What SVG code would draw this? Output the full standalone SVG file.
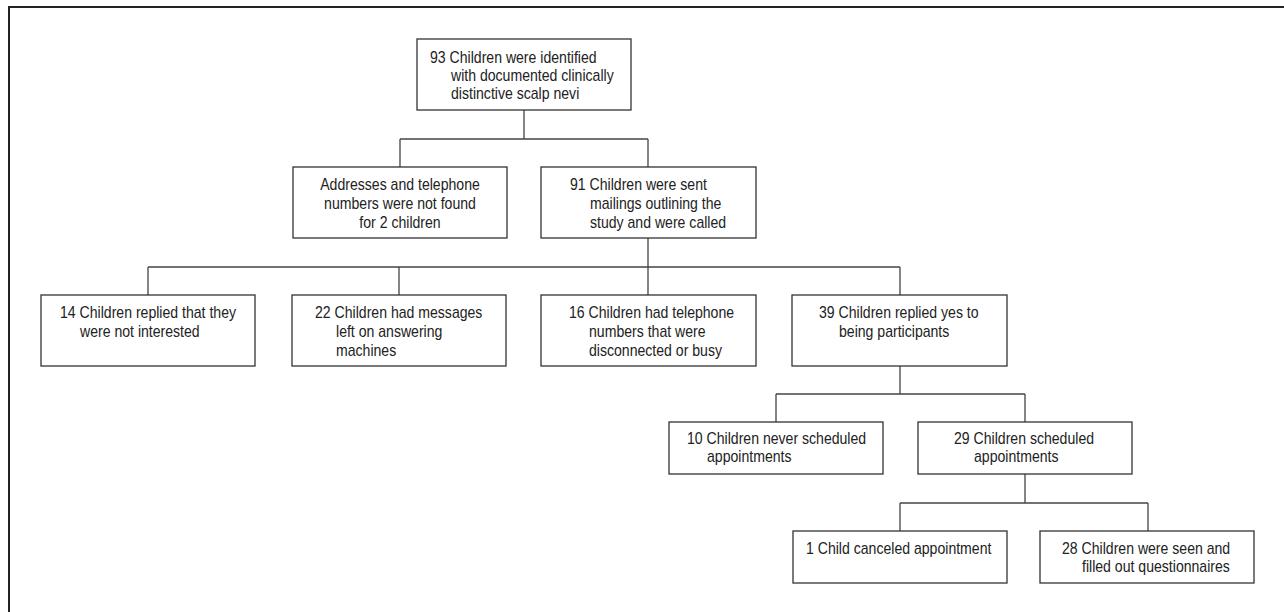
<svg xmlns="http://www.w3.org/2000/svg" width="1284" height="612" viewBox="0 0 1284 612">
<style>
.box{fill:#fff;stroke:#333;stroke-width:1.3}
.frame{fill:#fff;stroke:#222;stroke-width:2}
.conn{fill:none;stroke:#444;stroke-width:1.3}
text{font-family:"Liberation Sans",Arial,sans-serif;font-size:16px;fill:#222}
.mid{text-anchor:middle}
</style>
<rect class="frame" x="9" y="7" width="1290" height="620"/>
<g id="connectors">
<path class="conn" d="M524 110V139M400 139H648M400 139V167M648 139V167"/>
<path class="conn" d="M648 238V267M148 267H900M148 267V295M399 267V295M648 267V295M900 267V295"/>
<path class="conn" d="M900 366V394M776 394H1025M776 394V422M1025 394V422"/>
<path class="conn" d="M1025 474V503M900 503H1148M900 503V531M1148 503V531"/>
</g>
<g id="n93">
<rect class="box" x="417" y="39" width="214" height="71"/>
<text transform="translate(430 63) scale(0.88 1)">93 Children were identified</text>
<text transform="translate(451 81) scale(0.88 1)">with documented clinically</text>
<text transform="translate(451 99) scale(0.88 1)">distinctive scalp nevi</text>
</g>
<g id="nAddr">
<rect class="box" x="293" y="167" width="214" height="71"/>
<text class="mid" transform="translate(400 190) scale(0.88 1)">Addresses and telephone</text>
<text class="mid" transform="translate(400 209) scale(0.88 1)">numbers were not found</text>
<text class="mid" transform="translate(400 228) scale(0.88 1)">for 2 children</text>
</g>
<g id="n91">
<rect class="box" x="541" y="167" width="215" height="71"/>
<text transform="translate(570 190) scale(0.88 1)">91 Children were sent</text>
<text transform="translate(590 209) scale(0.88 1)">mailings outlining the</text>
<text transform="translate(590 228) scale(0.88 1)">study and were called</text>
</g>
<g id="n14">
<rect class="box" x="41" y="295" width="214" height="71"/>
<text transform="translate(60 318) scale(0.88 1)">14 Children replied that they</text>
<text transform="translate(80 337) scale(0.88 1)">were not interested</text>
</g>
<g id="n22">
<rect class="box" x="292" y="295" width="214" height="71"/>
<text transform="translate(315 318) scale(0.88 1)">22 Children had messages</text>
<text transform="translate(336 337) scale(0.88 1)">left on answering</text>
<text transform="translate(336 356) scale(0.88 1)">machines</text>
</g>
<g id="n16">
<rect class="box" x="541" y="295" width="215" height="71"/>
<text transform="translate(569 318) scale(0.88 1)">16 Children had telephone</text>
<text transform="translate(589 337) scale(0.88 1)">numbers that were</text>
<text transform="translate(589 356) scale(0.88 1)">disconnected or busy</text>
</g>
<g id="n39">
<rect class="box" x="792" y="295" width="215" height="71"/>
<text transform="translate(819 318) scale(0.88 1)">39 Children replied yes to</text>
<text transform="translate(839 337) scale(0.88 1)">being participants</text>
</g>
<g id="n10">
<rect class="box" x="669" y="422" width="214" height="52"/>
<text transform="translate(687 444) scale(0.88 1)">10 Children never scheduled</text>
<text transform="translate(707 462) scale(0.88 1)">appointments</text>
</g>
<g id="n29">
<rect class="box" x="918" y="422" width="214" height="52"/>
<text transform="translate(954 444) scale(0.88 1)">29 Children scheduled</text>
<text transform="translate(974 462) scale(0.88 1)">appointments</text>
</g>
<g id="n1">
<rect class="box" x="793" y="531" width="214" height="52"/>
<text transform="translate(806 554) scale(0.88 1)">1 Child canceled appointment</text>
</g>
<g id="n28">
<rect class="box" x="1040" y="531" width="214" height="52"/>
<text transform="translate(1062 554) scale(0.88 1)">28 Children were seen and</text>
<text transform="translate(1082 572) scale(0.88 1)">filled out questionnaires</text>
</g>
</svg>
